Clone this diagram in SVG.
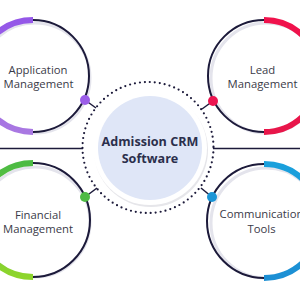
<svg xmlns="http://www.w3.org/2000/svg" width="300" height="300" viewBox="0 0 300 300">
<defs>
<linearGradient id="gPurple" x1="0" y1="0" x2="0" y2="1"><stop offset="0" stop-color="#9457e8"/><stop offset="1" stop-color="#a978e2"/></linearGradient>
<linearGradient id="gRed" x1="0" y1="0" x2="0" y2="1"><stop offset="0" stop-color="#f0124c"/><stop offset="1" stop-color="#e8164a"/></linearGradient>
<linearGradient id="gGreen" x1="0" y1="0" x2="0" y2="1"><stop offset="0" stop-color="#4cbb44"/><stop offset="1" stop-color="#8ed52c"/></linearGradient>
<linearGradient id="gBlue" x1="0" y1="0" x2="0" y2="1"><stop offset="0" stop-color="#1aa0dc"/><stop offset="1" stop-color="#1c8fd4"/></linearGradient>
</defs>
<style>
.ring{fill:none;stroke:#1c1a3a;stroke-width:2}
.shadow{fill:none;stroke:#e4e4ec;stroke-width:3}
.arc{fill:none;stroke-width:6}
.lbl{font-family:"Open Sans","Liberation Sans",sans-serif;font-size:11.3px;fill:#3a3a48;text-anchor:middle}
.title{font-family:"Open Sans","Liberation Sans",sans-serif;font-size:12.6px;font-weight:bold;fill:#2b2f4c;text-anchor:middle}
.conn{stroke:#1c1a3a;stroke-width:1.5;fill:none}
.dots{fill:none;stroke:#1c1a3a;stroke-width:2.2;stroke-linecap:round;stroke-dasharray:0 5}
</style>
<rect width="300" height="300" fill="#ffffff"/>
<g id="connectors">
<line class="conn" x1="0" y1="148.5" x2="83" y2="148.5"/>
<line class="conn" x1="213" y1="148.5" x2="300" y2="148.5"/>
<line class="conn" x1="85" y1="100" x2="96" y2="108"/>
<line class="conn" x1="213" y1="101" x2="202" y2="109"/>
<line class="conn" x1="85" y1="197" x2="97" y2="188"/>
<line class="conn" x1="212" y1="197" x2="201" y2="188"/>
</g>
<g id="center">
<circle class="dots" cx="148" cy="147.5" r="65.5"/>
<circle cx="151" cy="150" r="57" fill="#e6e6ea"/>
<circle cx="150" cy="148" r="57" fill="#ffffff"/>
<circle cx="150" cy="148" r="52" fill="#dfe6f7"/>
<text class="title" x="150" y="146">Admission CRM</text>
<text class="title" x="150" y="163">Software</text>
</g>
<g id="application">
<circle class="shadow" cx="35" cy="78" r="55"/>
<circle class="ring" cx="33" cy="76" r="56"/>
<path class="arc" stroke="url(#gPurple)" d="M33,20 A56,56 0 0 0 33,132"/>
<circle cx="85" cy="100" r="5" fill="#9b5de8"/>
<text class="lbl" x="38" y="74">Application</text>
<text class="lbl" x="38.5" y="88">Management</text>
</g>
<g id="lead">
<circle class="shadow" cx="266" cy="78" r="55"/>
<circle class="ring" cx="264" cy="76" r="56"/>
<path class="arc" stroke="url(#gRed)" d="M264,20 A56,56 0 0 1 264,132"/>
<circle cx="213" cy="101" r="5" fill="#ec1450"/>
<text class="lbl" x="262.5" y="74">Lead</text>
<text class="lbl" x="262.5" y="88">Management</text>
</g>
<g id="financial">
<circle class="shadow" cx="35" cy="222" r="55"/>
<circle class="ring" cx="33" cy="220" r="57"/>
<path class="arc" stroke="url(#gGreen)" d="M33,163 A57,57 0 0 0 33,277"/>
<circle cx="85" cy="197" r="5" fill="#4fba46"/>
<text class="lbl" x="38" y="219">Financial</text>
<text class="lbl" x="38" y="233">Management</text>
</g>
<g id="communication">
<circle class="shadow" cx="266" cy="223" r="55"/>
<circle class="ring" cx="264" cy="221" r="57"/>
<path class="arc" stroke="url(#gBlue)" d="M264,164 A57,57 0 0 1 264,278"/>
<circle cx="212" cy="197" r="5" fill="#1b95d6"/>
<text class="lbl" x="261.5" y="218">Communication</text>
<text class="lbl" x="261.5" y="233">Tools</text>
</g>
</svg>
